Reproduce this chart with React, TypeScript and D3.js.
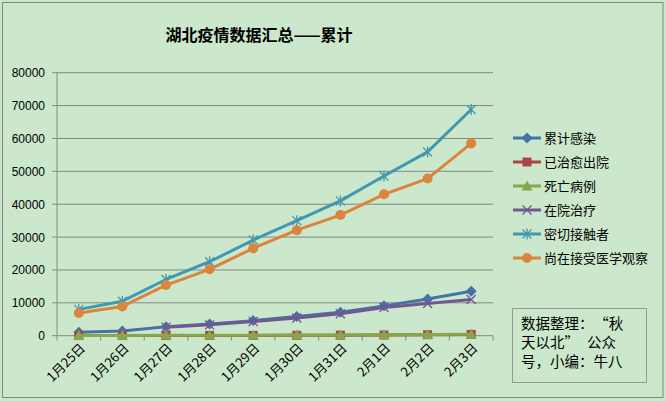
import React from "react";
import * as d3 from "d3";

const categories = ["1月25日","1月26日","1月27日","1月28日","1月29日","1月30日","1月31日","2月1日","2月2日","2月3日"];
const confirmed = [1052,1423,2714,3554,4586,5806,7153,9074,11177,13522];
const cured = [42,44,47,80,90,116,166,215,295,396];
const deaths = [52,76,100,125,162,204,249,294,350,414];
const inHospital: (number|null)[] = [null,null,2600,3300,4300,5400,6700,8600,9800,11000];
const contacts = [8000,10500,17100,22500,29100,35000,41000,48600,55900,68800];
const observation = [6900,8900,15400,20200,26600,32100,36700,43000,47800,58500];
const yTicks = [0,10000,20000,30000,40000,50000,60000,70000,80000];

type Marker = "diamond"|"square"|"triangle"|"x"|"star"|"circle";
const seriesNames = ["累计感染","已治愈出院","死亡病例","在院治疗","密切接触者","尚在接受医学观察"];
const seriesData = [confirmed, cured, deaths, inHospital, contacts, observation];
const seriesColors = ["#4572A7","#AA4643","#89A54E","#71588F","#4198AF","#DB843D"];
const seriesMarkers: Marker[] = ["diamond","square","triangle","x","star","circle"];
// note text, split so full-width spacing around the quotes can be applied
const noteLines: string[][] = [["数据整理：", "“", "秋"], ["天以北", "”", "公众"], ["号，小编：牛八"]];

const W = 666, H = 401;
const plot = { left: 57, right: 493, top: 72.7, bottom: 335.7 };

function MarkerShape({ type, x, y, color }: { type: Marker; x: number; y: number; color: string }) {
  switch (type) {
    case "diamond":
      return <path d={`M${x},${y-5.5}L${x+5.5},${y}L${x},${y+5.5}L${x-5.5},${y}Z`} fill={color} />;
    case "square":
      return <rect x={x-4.5} y={y-4.5} width={9} height={9} fill={color} />;
    case "triangle":
      return <path d={`M${x},${y-5.5}L${x+5.5},${y+4.5}L${x-5.5},${y+4.5}Z`} fill={color} />;
    case "x":
      return <path d={`M${x-4.5},${y-4.5}L${x+4.5},${y+4.5}M${x+4.5},${y-4.5}L${x-4.5},${y+4.5}`} stroke={color} strokeWidth={1.3} />;
    case "star":
      return <path d={`M${x-4.5},${y-4.5}L${x+4.5},${y+4.5}M${x+4.5},${y-4.5}L${x-4.5},${y+4.5}M${x},${y-5.5}L${x},${y+5.5}`} stroke={color} strokeWidth={1.3} />;
    case "circle":
      return <circle cx={x} cy={y} r={5} fill={color} />;
  }
}

export default function App() {
  const x = d3.scaleBand<string>().domain(categories).range([plot.left, plot.right]);
  const y = d3.scaleLinear().domain([0, 80000]).range([plot.bottom, plot.top]);
  const cx = (c: string) => (x(c) as number) + x.bandwidth() / 2;
  const line = d3.line<[string, number|null]>()
    .defined(d => d[1] != null)
    .x(d => cx(d[0]))
    .y(d => y(d[1] as number));

  const font = "'Liberation Sans', Arial, 'Noto Sans CJK SC', sans-serif";
  const cjk = "'Noto Sans CJK SC', 'Liberation Sans', sans-serif";

  const legendX = 513, legendY0 = 138, legendStep = 24;

  return (
    <svg width={W} height={H} style={{ position: "absolute", left: 0, top: 0 }} xmlns="http://www.w3.org/2000/svg">
      <rect x={0} y={0} width={W} height={H} fill="#CCE8CC" />
      <rect x={2.5} y={2.5} width={660.5} height={395} fill="#CCE8CC" stroke="#868686" strokeWidth={1} />
      <text x={259} y={41} textAnchor="middle" fontFamily={cjk} fontSize={16} fontWeight="bold" fill="#000">湖北疫情数据汇总——累计</text>

      {yTicks.map(t => (
        <g key={t}>
          <line x1={plot.left - 5} x2={plot.right} y1={y(t)} y2={y(t)} stroke="#868686" strokeWidth={1} />
          <text x={45} y={y(t) + 4.5} textAnchor="end" fontFamily={font} fontSize={12} fill="#000">{t}</text>
        </g>
      ))}
      <line x1={plot.left} x2={plot.left} y1={plot.top} y2={plot.bottom} stroke="#868686" strokeWidth={1} />
      {categories.map((c, i) => (
        <line key={"t" + i} x1={(x(c) as number)} x2={(x(c) as number)} y1={plot.bottom} y2={plot.bottom + 5} stroke="#868686" />
      ))}
      <line x1={plot.right} x2={plot.right} y1={plot.bottom} y2={plot.bottom + 5} stroke="#868686" />
      {categories.map(c => (
        <text key={c} transform={`translate(${cx(c) + 4},${plot.bottom + 10}) rotate(-45)`} textAnchor="end" fontFamily={cjk} fontSize={13} fill="#000" dy="0.35em">{c}</text>
      ))}

      {seriesData.map((data, si) => {
        const pts = categories.map((c, i) => [c, data[i]] as [string, number|null]);
        return (
          <g key={si}>
            <path d={line(pts) || ""} fill="none" stroke={seriesColors[si]} strokeWidth={3} strokeLinejoin="round" />
            {pts.filter(p => p[1] != null).map(p => (
              <MarkerShape key={p[0]} type={seriesMarkers[si]} x={cx(p[0])} y={y(p[1] as number)} color={seriesColors[si]} />
            ))}
          </g>
        );
      })}

      {seriesNames.map((n, i) => {
        const ly = legendY0 + i * legendStep;
        return (
          <g key={n}>
            <line x1={legendX} x2={legendX + 28} y1={ly} y2={ly} stroke={seriesColors[i]} strokeWidth={3} />
            <MarkerShape type={seriesMarkers[i]} x={legendX + 14} y={ly} color={seriesColors[i]} />
            <text x={legendX + 31} y={ly + 4.5} fontFamily={cjk} fontSize={13} fill="#000">{n}</text>
          </g>
        );
      })}

      <rect x={512.5} y={308.5} width={134} height={74} fill="#CCE8CC" stroke="#999" strokeWidth={1} />
      {noteLines.map((segs, i) => (
        <text key={i} x={521} y={328.5 + i * 19} fontFamily={cjk} fontSize={14.5} fill="#000">
          {segs.map((s, j) => {
            const dx = i === 0 && s === "“" ? 8 : i === 1 && s === "公众" ? 8 : 0;
            return <tspan key={j} dx={dx}>{s}</tspan>;
          })}
        </text>
      ))}
    </svg>
  );
}
